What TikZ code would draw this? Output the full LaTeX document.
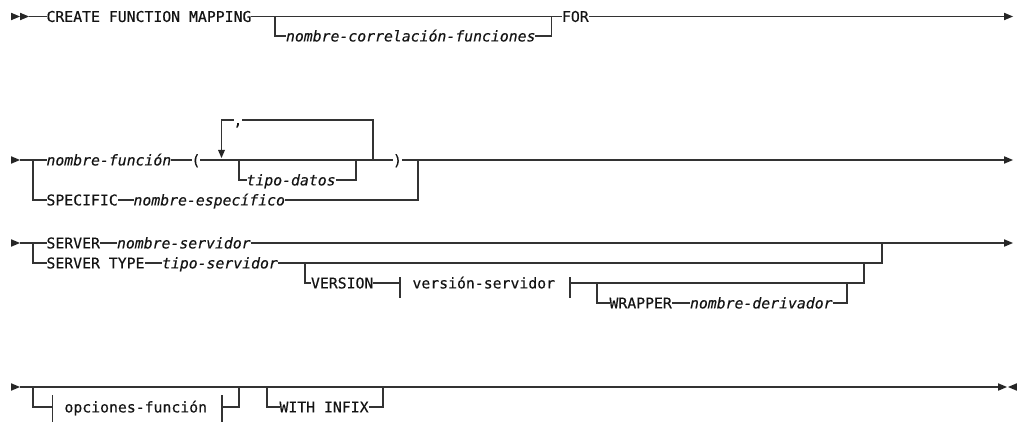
\documentclass[tikz,border=0pt]{standalone}
\usepackage{fontspec}
\newfontfamily\rrfont[FakeBold=0.35]{DejaVu Sans Mono}
\usetikzlibrary{calc}
\begin{document}
\begin{tikzpicture}[x=1pt,y=-1pt,
  line/.style={draw=black!80,line width=1.2pt},
  tok/.style={anchor=west,inner sep=0pt,outer sep=0pt,text height=10.8pt,text depth=0pt,
    font=\rrfont\fontsize{14.8}{16}\selectfont,text=black!92},
  var/.style={tok,font=\rrfont\fontsize{14.8}{16}\selectfont\itshape},
  tip/.style={fill=black!85,draw=none}
]
\useasboundingbox (0,0) rectangle (1017,422);

% ---------- Row 1 ----------
\fill[tip] (11,12.7) -- (20,16.5) -- (11,20.3) -- cycle;
\fill[tip] (20,12.7) -- (29,16.5) -- (20,20.3) -- cycle;
\coordinate (s1) at (29,16.5);
\node[tok] (create) at (46.5,16.5) {CREATE FUNCTION MAPPING};
\coordinate (b1) at (275,16.5);
\node[var] (corr) at (286,36) {nombre-correlación-funciones};
\coordinate (j1) at (551.5,16.5);
\node[tok] (for) at (562,16.5) {FOR};
\coordinate (e1) at (1004,16.5);
\draw[line] (s1) -- (create.west);
\draw[line] (create.east) -- (for.west);
\draw[line] (b1) |- (corr.west);
\draw[line] (corr.east) -| (j1);
\draw[line] (for.east) -- (e1);
\fill[tip] (1004,12.7) -- (1013,16.5) -- (1004,20.3) -- cycle;

% ---------- Row 2 ----------
\fill[tip] (11,156.2) -- (20,160) -- (11,163.8) -- cycle;
\coordinate (s2) at (20,160);
\coordinate (b2) at (33,160);
\node[var] (fname) at (46.5,160) {nombre-función};
\node[tok] (lp) at (191.5,160) {(};
\coordinate (lpL) at (221.5,150);
\node[tok] (comma) at (233.5,120) {,};
\coordinate (lpR) at (373,160);
\coordinate (td1) at (239,160);
\node[var] (tipo) at (246.5,180) {tipo-datos};
\coordinate (td2) at (356,160);
\node[tok] (rp) at (393,160) {)};
\coordinate (j2) at (418,160);
\node[tok] (spec) at (46.5,200) {SPECIFIC};
\node[var] (nesp) at (133.5,200) {nombre-específico};
\coordinate (e2) at (1004,160);
\draw[line] (s2) -- (fname.west);
\draw[line] (fname.east) -- (lp.west);
\draw[line] (lp.east) -- (rp.west);
\draw[line] (td1) |- (tipo.west);
\draw[line] (tipo.east) -| (td2);
\draw[line] (lpR) |- (comma.east);
\draw[line] (comma.west) -| (lpL);
\fill[tip] (218,150) -- (225,150) -- (221.5,158) -- cycle;
\draw[line] (rp.east) -- (e2);
\draw[line] (b2) |- (spec.west);
\draw[line] (spec.east) -- (nesp.west);
\draw[line] (nesp.east) -| (j2);
\fill[tip] (1004,156.2) -- (1013,160) -- (1004,163.8) -- cycle;

% ---------- Row 3 ----------
\fill[tip] (11,239.2) -- (20,243) -- (11,246.8) -- cycle;
\coordinate (s3) at (20,243);
\coordinate (b3) at (33,243);
\node[tok] (srv) at (46.5,243) {SERVER};
\node[var] (nsrv) at (117,243) {nombre-servidor};
\coordinate (j3a) at (882,243);
\node[tok] (srvt) at (46.5,263) {SERVER TYPE};
\node[var] (tsrv) at (162,263) {tipo-servidor};
\coordinate (bv) at (305,263);
\node[tok] (ver) at (311,283) {VERSION};
\coordinate (barL1) at (400,283);
\node[tok] (vs) at (412.5,283) {versión-servidor};
\coordinate (barR1) at (570,283);
\coordinate (bw) at (597,283);
\node[tok] (wr) at (609.5,303) {WRAPPER};
\node[var] (nder) at (690,303) {nombre-derivador};
\coordinate (j3c) at (847,283);
\coordinate (j3b) at (864,263);
\coordinate (e3) at (1004,243);
\draw[line] (s3) -- (srv.west);
\draw[line] (srv.east) -- (nsrv.west);
\draw[line] (nsrv.east) -- (e3);
\draw[line] (b3) |- (srvt.west);
\draw[line] (srvt.east) -- (tsrv.west);
\draw[line] (tsrv.east) -| (j3a);
\draw[line] (bv) |- (ver.west);
\draw[line] (ver.east) -- (barL1);
\draw[line] (barL1) ++(0,-6) -- ++(0,21);
\draw[line] (barR1) ++(0,-6) -- ++(0,21);
\draw[line] (barR1) -| (j3b);
\draw[line] (bw) |- (wr.west);
\draw[line] (wr.east) -- (nder.west);
\draw[line] (nder.east) -| (j3c);
\fill[tip] (1004,239.2) -- (1013,243) -- (1004,246.8) -- cycle;

% ---------- Row 4 ----------
\fill[tip] (11,383.2) -- (20,387) -- (11,390.8) -- cycle;
\coordinate (s4) at (20,387);
\coordinate (b4) at (33,387);
\coordinate (barL2) at (52.5,407);
\node[tok] (opt) at (64.5,407) {opciones-función};
\coordinate (barR2) at (222,407);
\coordinate (j4a) at (239,387);
\coordinate (bwi) at (267,387);
\node[tok] (wi) at (279.5,407) {WITH INFIX};
\coordinate (j4b) at (383,387);
\coordinate (e4) at (998,387);
\draw[line] (s4) -- (e4);
\draw[line] (b4) |- (barL2);
\draw[line] (barL2) ++(0,-12) -- ++(0,27);
\draw[line] (barR2) ++(0,-12) -- ++(0,27);
\draw[line] (barR2) -| (j4a);
\draw[line] (bwi) |- (wi.west);
\draw[line] (wi.east) -| (j4b);
\draw[line] (387,386.2) -- (404,386.2);
\fill[tip] (998,383.2) -- (1007,387) -- (998,390.8) -- cycle;
\fill[tip] (1017,383.2) -- (1008,387) -- (1017,390.8) -- cycle;
\end{tikzpicture}
\end{document}
